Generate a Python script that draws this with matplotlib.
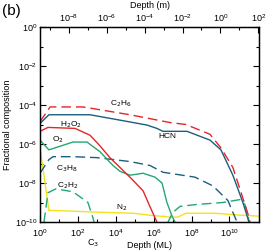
import numpy as np
import matplotlib
matplotlib.use("Agg")
import matplotlib.pyplot as plt
from matplotlib.ticker import LogLocator, NullFormatter

# log10(depth in ML) and log10(fractional composition)
c2h6_x = [0, 0.53, 2.27, 4.75, 6.86, 7.70, 8.97, 9.55, 10.18, 10.55, 10.98, 11.13]
c2h6_y = [-4.86, -4.1, -4.1, -4.5, -4.9, -5.0, -5.5, -6.2, -7.2, -8.3, -9.6, -10.2]

hcn_x = [0, 0.47, 2.64, 4.75, 5.65, 6.17, 6.49, 7.76, 8.97, 9.55, 10.18, 10.71, 11.03]
hcn_y = [-4.95, -4.5, -4.5, -4.87, -5.03, -5.2, -5.35, -5.35, -5.8, -6.3, -7.6, -9.0, -10.0]

h2o2_x = [0, 0.42, 1.85, 2.64, 3.17, 3.69, 4.22, 4.85, 5.44, 5.80, 6.17]
h2o2_y = [-5.35, -5.15, -5.2, -5.55, -6.1, -6.7, -7.2, -7.8, -8.4, -9.2, -10.0]

o2_x = [0, 0.47, 1.74, 2.48, 3.17, 3.85, 4.22, 4.75, 5.44, 6.07, 6.44, 6.70, 6.97, 7.12]
o2_y = [-5.8, -6.3, -5.9, -5.9, -6.4, -7.1, -7.4, -7.6, -7.5, -7.7, -8.0, -9.0, -9.7, -10.0]

c3h8_x = [0, 0.47, 0.69, 1.74, 3.01, 4.75, 5.80, 6.49, 8.18, 9.13, 9.92, 10.18, 10.40]
c3h8_y = [-7.5, -6.8, -6.65, -6.65, -6.7, -6.9, -7.1, -7.45, -7.7, -8.15, -8.9, -9.5, -10.0]

c2h2_x = [0, 0.42, 0.84, 1.74, 2.53, 2.80, 2.90, 3.6, 6.0, 6.65, 7.02, 7.39, 8.28, 9.66, 10.55, 10.82, 10.98, 11.08]
c2h2_y = [-11.5, -8.5, -8.3, -8.45, -9.0, -9.8, -10.2, -12, -12, -10.2, -9.5, -9.2, -9.1, -9.0, -8.85, -9.1, -9.7, -10.2]

n2_x = [0, 0.47, 3.17, 4.91, 5.80, 6.86, 7.28, 7.70, 9.23, 10.55, 11.56]
n2_y = [-6.2, -9.4, -9.5, -9.55, -9.65, -9.75, -9.75, -9.55, -9.55, -9.65, -9.7]

ml_to_m = 3e-10

red = "#e3262b"
teal = "#1c5e7e"
green = "#22a874"
yellow = "#f2e21e"

plt.rcParams['font.family'] = ['Liberation Sans', 'DejaVu Sans']
fig = plt.figure(figsize=(2.66, 2.50), dpi=100)
ax = fig.add_axes([40/266, 1-222/250, (259-40)/266, (222-27)/250])

def p(x, y, **kw):
    ax.plot(10**np.array(x), 10**np.array(y), **kw)

lw = 1.0
p(n2_x, n2_y, color=yellow, lw=lw)
p(c2h2_x, c2h2_y, color=green, lw=lw, dashes=(7, 3.5))
p(c3h8_x, c3h8_y, color=teal, lw=lw, dashes=(7, 3.5))
p(o2_x, o2_y, color=green, lw=lw)
p(h2o2_x, h2o2_y, color=red, lw=lw)
p(hcn_x, hcn_y, color=teal, lw=lw)
p(c2h6_x, c2h6_y, color=red, lw=lw, dashes=(7, 3.5))

ax.set_xscale('log')
ax.set_yscale('log')
ax.set_xlim(1, 10**11.56)
ax.set_ylim(1e-10, 1)

fs = 6.5
for axis in (ax.xaxis, ax.yaxis):
    axis.set_major_locator(LogLocator(base=100.0, numticks=20))
    axis.set_minor_locator(LogLocator(base=10.0, subs=(1.0,), numticks=20))
    axis.set_minor_formatter(NullFormatter())
ax.tick_params(which='both', direction='in', top=False, right=True, labelsize=fs, width=0.8)
ax.tick_params(which='major', length=4.5, pad=2)
ax.tick_params(which='minor', length=2.5)
ax.tick_params(axis='x', which='major', pad=3.5)

ax2 = ax.twiny()
ax2.set_xscale('log')
ax2.set_xlim(1*ml_to_m, 10**11.56*ml_to_m)
ax2.xaxis.set_major_locator(LogLocator(base=100.0, numticks=20))
ax2.xaxis.set_minor_locator(LogLocator(base=10.0, subs=(1.0,), numticks=20))
ax2.xaxis.set_minor_formatter(NullFormatter())
ax2.tick_params(which='both', direction='in', labelsize=fs, width=0.8)
ax2.tick_params(which='major', length=4.5, pad=2.5)
ax2.tick_params(which='minor', length=2.5)

for a in (ax, ax2):
    for s in a.spines.values():
        s.set_linewidth(0.9)

ax.set_xlabel("Depth (ML)", fontsize=fs, labelpad=2)
ax.set_ylabel("Fractional composition", fontsize=fs, labelpad=2)
ax2.set_xlabel("Depth (m)", fontsize=fs, labelpad=3)

lf = 6
def lab(x, y, s):
    ax.text(10**x, 10**y, s, fontsize=lf, ha='center', va='center')

lab(4.27, -3.95, r"C$_2$H$_6$")
lab(1.64, -5.03, r"H$_2$O$_2$")
lab(0.95, -5.8, r"O$_2$")
lab(6.70, -5.6, "HCN")
lab(1.42, -7.28, r"C$_3$H$_8$")
lab(1.48, -8.15, r"C$_2$H$_2$")
lab(4.33, -9.28, r"N$_2$")

fig.text(93/266, 1-243/250, r"C$_3$", fontsize=fs, ha='center', va='center')
fig.text(2/266, 1-11/250, "(b)", fontsize=11, ha='left', va='center')

fig.savefig("out.png", dpi=100)
